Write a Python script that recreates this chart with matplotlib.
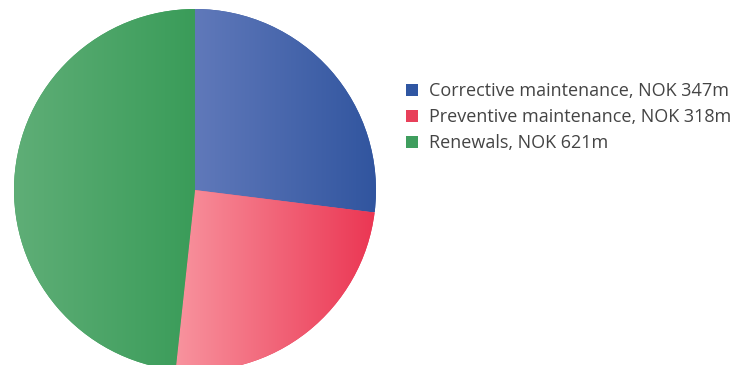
import numpy as np
import matplotlib.pyplot as plt
from matplotlib.colors import LinearSegmentedColormap
from matplotlib.patches import Patch

labels = ['Corrective maintenance, NOK 347m',
          'Preventive maintenance, NOK 318m',
          'Renewals, NOK 621m']
values = [347, 318, 621]
left_colors = ['#6079ba', '#f8939e', '#5fae77']
right_colors = ['#31559f', '#eb3653', '#3a9c59']
legend_colors = ['#2f56a2', '#e8405a', '#3f9e5e']

fig = plt.figure(figsize=(7.37, 3.65), dpi=100)
W, H = 737, 365
cx, cy, r = 195, 190, 181
ax = fig.add_axes([(cx - r) / W, (H - cy - r) / H, 2 * r / W, 2 * r / H])

wedges, _ = ax.pie(values, startangle=90, counterclock=False, radius=1,
                   colors=right_colors, wedgeprops=dict(linewidth=0))
ax.set_xlim(-1, 1)
ax.set_ylim(-1, 1)
ax.set_aspect('equal')
ax.axis('off')

# horizontal gradient in each wedge, lighter on the left
grad = np.linspace(0, 1, 256).reshape(1, -1)
inv = ax.transData.inverted()
for w, c0, c1 in zip(wedges, left_colors, right_colors):
    cmap = LinearSegmentedColormap.from_list('g', [c0, c1])
    bb = w.get_transform().transform_path(w.get_path()).get_extents()
    (x0, y0), (x1, y1) = inv.transform([[bb.x0, bb.y0], [bb.x1, bb.y1]])
    im = ax.imshow(grad, extent=[x0, x1, y0, y1], cmap=cmap, aspect='auto',
                   interpolation='bilinear', zorder=3)
    im.set_clip_path(w)
ax.set_xlim(-1, 1)
ax.set_ylim(-1, 1)

handles = [Patch(facecolor=c, edgecolor='none') for c in legend_colors]
fig.legend(handles, labels, loc='upper left', bbox_to_anchor=(390 / W, 1 - 66 / H),
           frameon=False, prop={'family': 'Open Sans', 'size': 13},
           handlelength=0.65, handleheight=0.65, handletextpad=0.6,
           labelspacing=0.45, labelcolor='#444444')

fig.savefig('out.png', dpi=100)
